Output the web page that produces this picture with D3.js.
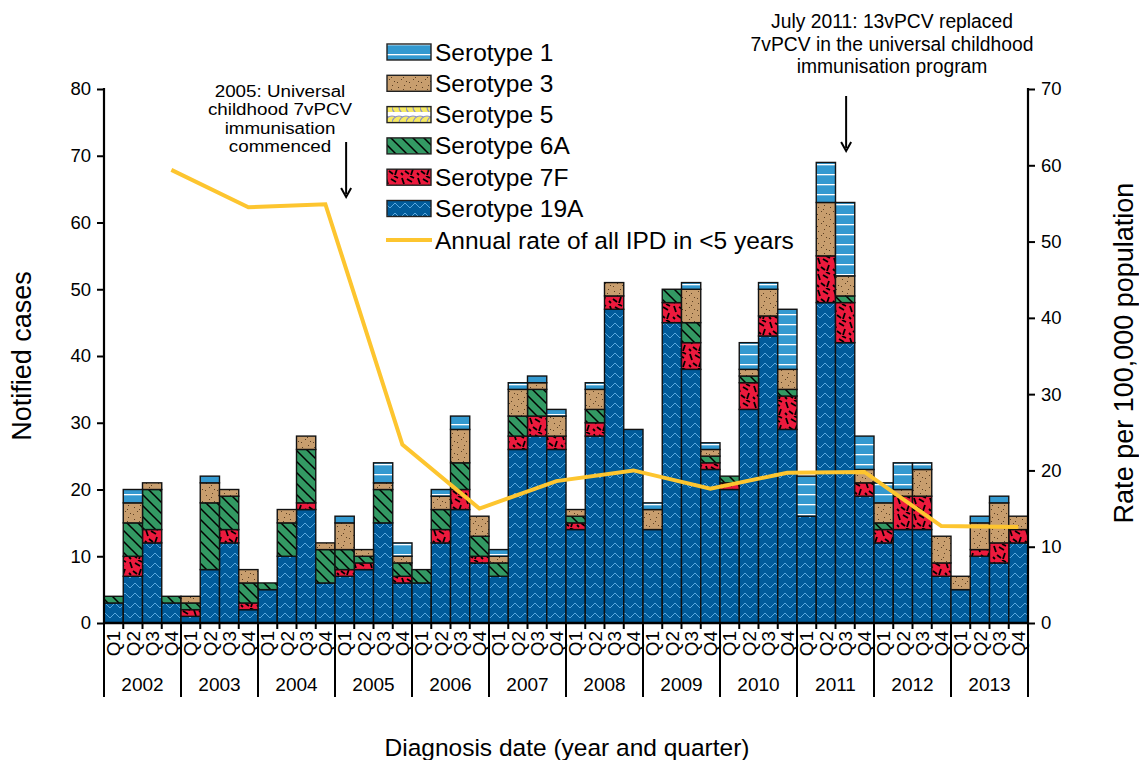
<!DOCTYPE html>
<html><head><meta charset="utf-8">
<script src="https://cdn.jsdelivr.net/npm/d3@7"></script>
<style>
body{margin:0;background:#fff}
text{font-family:"Liberation Sans",Arial,sans-serif;fill:#000}
</style>
</head><body>
<svg id="c" width="1139" height="760"></svg>
<script>
const years = [2002,2003,2004,2005,2006,2007,2008,2009,2010,2011,2012,2013];
const quarterLabels = ["Q1","Q2","Q3","Q4"];
const seriesNames = ["Serotype 1","Serotype 3","Serotype 5","Serotype 6A","Serotype 7F","Serotype 19A"];
const lineName = "Annual rate of all IPD in <5 years";
// quarterly notified cases, 2002 Q1 .. 2013 Q4
const s19A = [3,7,12,3, 1,8,12,2, 5,10,17,6, 7,8,15,6, 6,12,17,9, 7,26,28,26, 14,28,47,29, 14,45,38,23, 20,32,43,29, 16,48,42,19, 12,14,14,7, 5,10,9,12];
const s7F  = [0,3,2,0, 1,0,2,1, 0,0,1,0, 1,1,0,1, 0,2,3,1, 0,2,3,2, 1,2,2,0, 0,3,4,1, 1,4,3,5, 0,7,6,2, 2,5,5,2, 0,1,3,2];
const s6A  = [1,5,6,1, 1,10,5,3, 1,5,8,5, 3,1,5,2, 2,3,4,3, 2,3,4,0, 1,2,0,0, 0,2,3,1, 1,1,0,1, 0,0,1,0, 1,0,0,0, 0,0,0,0];
const s5   = [0,0,0,0, 0,0,0,0, 0,0,0,0, 0,0,0,0, 0,0,0,0, 0,0,0,0, 0,0,0,0, 0,0,0,0, 0,0,0,0, 0,0,0,0, 0,0,0,0, 0,0,0,0];
const s3   = [0,3,1,0, 1,3,1,2, 0,2,2,1, 4,1,1,1, 0,2,5,3, 1,4,1,3, 1,3,2,0, 3,0,5,1, 0,1,4,3, 0,8,3,2, 3,1,4,4, 2,4,6,2];
const s1   = [0,2,0,0, 0,1,0,0, 0,0,0,0, 1,0,3,2, 0,1,2,0, 1,1,1,1, 0,1,0,0, 1,0,1,1, 0,4,1,9, 6,6,11,5, 3,4,1,0, 0,1,1,0];
// annual rate per 100,000 (<5 years), plotted at Q4 of each year
const annualRate = [59.4,54.5,54.9,23.4,15.0,18.6,20.0,17.6,19.7,19.8,12.7,12.6];
const leftTicks = [0,10,20,30,40,50,60,70,80];
const rightTicks = [0,10,20,30,40,50,60,70];

const svg = d3.select("#c");
const L = 104, R = 1028, T = 89, B = 623;
const FONT = '"Liberation Sans",Arial,sans-serif';

const quarters = [];
years.forEach(y => quarterLabels.forEach(q => quarters.push(y + q)));
const x = d3.scaleBand().domain(quarters).range([L, R]).padding(0);
const y = d3.scaleLinear().domain([0, 80]).range([B, T]);
const yR = d3.scaleLinear().domain([0, 70]).range([B, T]);

// ---------- patterns ----------
const defs = svg.append("defs");
function pat(id, w, h) {
  return defs.append("pattern").attr("id", id).attr("patternUnits", "userSpaceOnUse")
    .attr("width", w).attr("height", h);
}
let p = pat("p1", 10, 10);
p.append("rect").attr("width", 10).attr("height", 10).attr("fill", "#3399d0");
p.append("rect").attr("y", 4).attr("width", 10).attr("height", 1.3).attr("fill", "#ffffff");
p = pat("p3", 12, 12);
p.append("rect").attr("width", 12).attr("height", 12).attr("fill", "#c89e6e");
[[2,3],[8,1],[5,7],[10,9],[1,10],[7,5]].forEach(([a,b]) =>
  p.append("rect").attr("x", a).attr("y", b).attr("width", 1).attr("height", 1).attr("fill", "#5b3f22"));
p = pat("p5", 14, 16);
p.append("rect").attr("width", 14).attr("height", 16).attr("fill", "#ffffff");
[0, 7, 14].forEach(cx => p.append("circle").attr("cx", cx).attr("cy", 11).attr("r", 7)
  .attr("fill", "#f7ea62").attr("stroke", "#8d93c4").attr("stroke-width", 1.2));
p = pat("p6A", 11, 11);
p.append("rect").attr("width", 11).attr("height", 11).attr("fill", "#339963");
p.append("path").attr("d", "M-2,-2 L13,13 M-2,9 L2,13 M9,-2 L13,2").attr("stroke", "#000").attr("stroke-width", 1.5);
p = pat("p7F", 16, 16);
p.append("rect").attr("width", 16).attr("height", 16).attr("fill", "#ec1a3d");
p.append("path").attr("d", "M2,2 L4,8 M7,3 L12,6 M13,9 L11,15 M5,11 L9,14 M1,13 L3,15 M10,0 L14,2")
  .attr("stroke", "#000").attr("stroke-width", 1.8);
p = pat("p19A", 10, 10);
p.append("rect").attr("width", 10).attr("height", 10).attr("fill", "#015b9a");
p.append("path").attr("d", "M0,8 L5,3 L10,8").attr("fill", "none").attr("stroke", "#5aa8dd").attr("stroke-width", 1);

// ---------- stacked bars ----------
const stackSeries = [
  {name: "Serotype 19A", vals: s19A, fill: "url(#p19A)"},
  {name: "Serotype 7F", vals: s7F, fill: "url(#p7F)"},
  {name: "Serotype 6A", vals: s6A, fill: "url(#p6A)"},
  {name: "Serotype 5", vals: s5, fill: "url(#p5)"},
  {name: "Serotype 3", vals: s3, fill: "url(#p3)"},
  {name: "Serotype 1", vals: s1, fill: "url(#p1)"}
];
const table = quarters.map((q, i) => {
  const o = {q};
  stackSeries.forEach(s => o[s.name] = s.vals[i]);
  return o;
});
const stack = d3.stack().keys(stackSeries.map(s => s.name))(table);
const gBars = svg.append("g");
stack.forEach((layer, li) => {
  gBars.append("g").selectAll("rect").data(layer.filter(d => d[1] - d[0] > 0)).join("rect")
    .attr("x", d => x(d.data.q))
    .attr("width", x.bandwidth())
    .attr("y", d => y(d[1]))
    .attr("height", d => y(d[0]) - y(d[1]))
    .attr("fill", stackSeries[li].fill)
    .attr("stroke", "#111").attr("stroke-width", 1.4);
});

// ---------- line ----------
const linePts = years.map((yr, i) => [x(yr + "Q4") + x.bandwidth() / 2, yR(annualRate[i])]);
svg.append("path").attr("d", d3.line()(linePts))
  .attr("fill", "none").attr("stroke", "#fdc52f").attr("stroke-width", 4);

// ---------- axes ----------
const axL = svg.append("g").attr("transform", `translate(${L},0)`)
  .call(d3.axisLeft(y).tickValues(leftTicks).tickSize(7).tickPadding(6));
const axR = svg.append("g").attr("transform", `translate(${R},0)`)
  .call(d3.axisRight(yR).tickValues(rightTicks).tickSize(7).tickPadding(6));
[axL, axR].forEach(a => {
  a.select(".domain").attr("stroke", "#000").attr("stroke-width", 2.2).attr("d", `M0,${B}V${T-1}`);
  a.selectAll(".tick line").attr("stroke", "#000").attr("stroke-width", 2);
  a.selectAll(".tick text").style("font-size", "18.5px").style("font-family", FONT).attr("fill", "#000");
});

const axB = svg.append("g").attr("transform", `translate(0,${B})`)
  .call(d3.axisBottom(x).tickSize(0).tickFormat(d => d.slice(4)));
axB.select(".domain").attr("stroke", "#000").attr("stroke-width", 2.5).attr("d", `M${L},0H${R}`);
axB.selectAll(".tick text")
  .attr("transform", "rotate(-90)")
  .attr("text-anchor", "end")
  .attr("x", -8).attr("y", 0).attr("dy", "0.36em")
  .style("font-size", "19px").style("font-family", FONT);
svg.append("g").selectAll("line").data(quarters.slice(1)).join("line")
  .attr("x1", d => x(d)).attr("x2", d => x(d)).attr("y1", B).attr("y2", B + 6)
  .attr("stroke", "#000").attr("stroke-width", 2);
const yearEdges = years.map(yr => x(yr + "Q1")).concat([R]);
svg.append("g").selectAll("line").data(yearEdges).join("line")
  .attr("x1", d => d).attr("x2", d => d).attr("y1", B).attr("y2", 697)
  .attr("stroke", "#000").attr("stroke-width", 2);
svg.append("g").selectAll("text").data(years).join("text")
  .attr("x", yr => x(yr + "Q1") + 2 * x.bandwidth())
  .attr("y", 691).attr("text-anchor", "middle")
  .style("font-size", "19px").text(d => d);

// axis titles
svg.append("text").attr("transform", "translate(22,356) rotate(-90)")
  .attr("text-anchor", "middle").attr("dy", "0.35em").style("font-size", "27px").text("Notified cases");
svg.append("text").attr("transform", "translate(1124,353) rotate(-90)")
  .attr("text-anchor", "middle").attr("dy", "0.35em").style("font-size", "27px").text("Rate per 100,000 population");
svg.append("text").attr("x", 567).attr("y", 756).attr("text-anchor", "middle")
  .style("font-size", "24.5px").text("Diagnosis date (year and quarter)");

// ---------- legend ----------
const legendFills = ["url(#p1)","url(#p3)","url(#p5)","url(#p6A)","url(#p7F)","url(#p19A)"];
const lg = svg.append("g");
seriesNames.forEach((nm, i) => {
  const yy = 44 + i * 31.3;
  lg.append("rect").attr("x", 387).attr("y", yy).attr("width", 44).attr("height", 16)
    .attr("fill", legendFills[i]).attr("stroke", "#222").attr("stroke-width", 1.4);
  lg.append("text").attr("x", 435).attr("y", yy + 16.5).style("font-size", "24.5px").text(nm);
});
lg.append("line").attr("x1", 386).attr("x2", 432).attr("y1", 240).attr("y2", 240)
  .attr("stroke", "#fdc52f").attr("stroke-width", 4);
lg.append("text").attr("x", 435).attr("y", 248.5).style("font-size", "24.5px").text(lineName);

// ---------- annotations ----------
const ann1 = ["2005: Universal", "childhood 7vPCV", "immunisation", "commenced"];
const ann2 = ["July 2011: 13vPCV replaced", "7vPCV in the universal childhood", "immunisation program"];
svg.append("g").selectAll("text").data(ann1).join("text")
  .attr("transform", (d, i) => `translate(280,${96.5 + i * 18.5}) scale(1.19,1)`)
  .attr("text-anchor", "middle")
  .style("font-size", "15.8px").text(d => d);
svg.append("g").selectAll("text").data(ann2).join("text")
  .attr("x", 892).attr("y", (d, i) => 28 + i * 22.5).attr("text-anchor", "middle")
  .style("font-size", "19.3px").text(d => d);
function arrow(xx, y1, y2) {
  svg.append("line").attr("x1", xx).attr("x2", xx).attr("y1", y1).attr("y2", y2 - 3)
    .attr("stroke", "#000").attr("stroke-width", 2);
  svg.append("path").attr("d", `M${xx-5},${y2-9} L${xx},${y2} L${xx+5},${y2-9}`)
    .attr("fill", "none").attr("stroke", "#000").attr("stroke-width", 2);
}
arrow(x("2005Q1") + x.bandwidth() / 2 + 1.5, 142, 197);
arrow(x("2011Q3") + x.bandwidth() / 2 + 1, 96, 151);
</script>
</body></html>
